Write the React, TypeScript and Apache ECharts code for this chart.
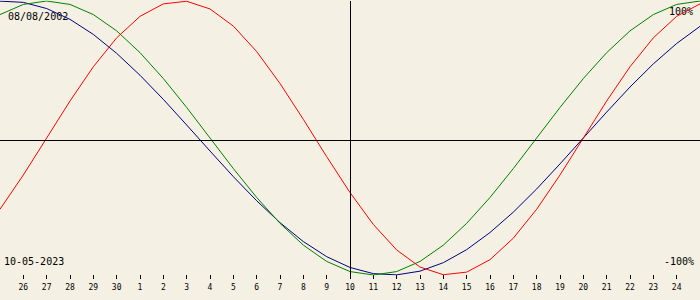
import React, { useEffect, useRef } from "react";
import * as echarts from "echarts";

// Day offsets relative to the centre date (10-05-2023)
const DAY_OFFSETS = [
  -15, -14, -13, -12, -11, -10, -9, -8, -7, -6, -5, -4, -3, -2, -1, 0,
  1, 2, 3, 4, 5, 6, 7, 8, 9, 10, 11, 12, 13, 14, 15,
];

const TICK_OFFSETS = [
  -14, -13, -12, -11, -10, -9, -8, -7, -6, -5, -4, -3, -2, -1, 0,
  1, 2, 3, 4, 5, 6, 7, 8, 9, 10, 11, 12, 13, 14,
];
const TICK_LABELS = [
  "26", "27", "28", "29", "30", "1", "2", "3", "4", "5", "6", "7", "8", "9", "10",
  "11", "12", "13", "14", "15", "16", "17", "18", "19", "20", "21", "22", "23", "24",
];

// Values in percent, one per day
const PHYSICAL = [
  -52.0, -27.0, 0, 27.0, 52.0, 73.1, 88.8, 97.9, 99.8, 94.2, 81.7, 63.1, 39.8, 13.6, -13.6,
  -39.8, -63.1, -81.7, -94.2, -99.8, -97.9, -88.8, -73.1, -52.0, -27.0, 0, 27.0, 52.0, 73.1,
  88.8, 97.9,
];
const EMOTIONAL = [
  90.1, 97.5, 100, 97.5, 90.1, 78.2, 62.3, 43.4, 22.3, 0, -22.3, -43.4, -62.3, -78.2, -90.1,
  -97.5, -100, -97.5, -90.1, -78.2, -62.3, -43.4, -22.3, 0, 22.3, 43.4, 62.3, 78.2, 90.1,
  97.5, 100,
];
const INTELLECTUAL = [
  99.9, 99.0, 94.5, 86.6, 75.6, 61.8, 45.8, 28.2, 9.5, -9.5, -28.2, -45.8, -61.8, -75.6, -86.6,
  -94.5, -99.0, -99.9, -97.2, -91.0, -81.5, -69.0, -54.1, -37.2, -18.9, 0, 18.9, 37.2, 54.1,
  69.0, 81.5,
];

const BIRTH_DATE = "08/08/2002";
const CENTER_DATE = "10-05-2023";
const TOP_LABEL = "100%";
const BOTTOM_LABEL = "-100%";
const CROSS_X = 0;
const CROSS_Y = -1.5;

const BG = "#f4f0e3";
const FONT = "'DejaVu Sans Mono', monospace";

export default function App() {
  const ref = useRef<HTMLDivElement>(null);

  useEffect(() => {
    if (!ref.current) return;
    const chart = echarts.init(ref.current, undefined, { renderer: "svg" });
    const pairs = (vals: number[]) => DAY_OFFSETS.map((d, i) => [d, vals[i]]);
    const lineSeries = (name: string, vals: number[], color: string, extra: any = {}) => ({
      name,
      type: "line",
      data: pairs(vals),
      symbol: "none",
      smooth: false,
      lineStyle: { color, width: 1 },
      silent: true,
      ...extra,
    });

    chart.setOption({
      animation: false,
      backgroundColor: BG,
      grid: { left: 0, right: 0, top: 1, height: 274, containLabel: false },
      xAxis: {
        type: "value",
        position: "bottom",
        min: -15,
        max: 15,
        interval: 1,
        axisLine: { show: false, onZero: false },
        splitLine: { show: false },
        axisTick: {
          show: true,
          length: 4,
          lineStyle: { color: "#000", width: 1 },
          customValues: TICK_OFFSETS,
        },
        axisLabel: {
          show: true,
          margin: 8,
          color: "#000",
          fontFamily: FONT,
          fontSize: 8,
          customValues: TICK_OFFSETS,
          formatter: (v: number) => {
            const i = TICK_OFFSETS.indexOf(Math.round(v));
            return i >= 0 ? TICK_LABELS[i] : "";
          },
        },
      },
      yAxis: {
        type: "value",
        min: -100,
        max: 100,
        show: false,
        splitLine: { show: false },
      },
      series: [
        lineSeries("Intellectual", INTELLECTUAL, "#000080", {
          markLine: {
            silent: true,
            symbol: "none",
            label: { show: false },
            lineStyle: { color: "#000", width: 1, type: "solid" },
            data: [{ xAxis: CROSS_X }, { yAxis: CROSS_Y }],
          },
        }),
        lineSeries("Emotional", EMOTIONAL, "#008000"),
        lineSeries("Physical", PHYSICAL, "#ff0000"),
      ],
      graphic: [
        {
          type: "text",
          left: 8,
          top: 11,
          style: { text: BIRTH_DATE, fill: "#000", font: `10px ${FONT}` },
        },
        {
          type: "text",
          right: 7,
          top: 6,
          style: { text: TOP_LABEL, fill: "#000", font: `10px ${FONT}` },
        },
        {
          type: "text",
          left: 4,
          top: 256,
          style: { text: CENTER_DATE, fill: "#000", font: `10px ${FONT}` },
        },
        {
          type: "text",
          right: 6,
          top: 256,
          style: { text: BOTTOM_LABEL, fill: "#000", font: `10px ${FONT}` },
        },
      ],
    });
    return () => chart.dispose();
  }, []);

  return (
    <div
      ref={ref}
      style={{ position: "fixed", left: 0, top: 0, width: 700, height: 300, background: BG }}
    />
  );
}
